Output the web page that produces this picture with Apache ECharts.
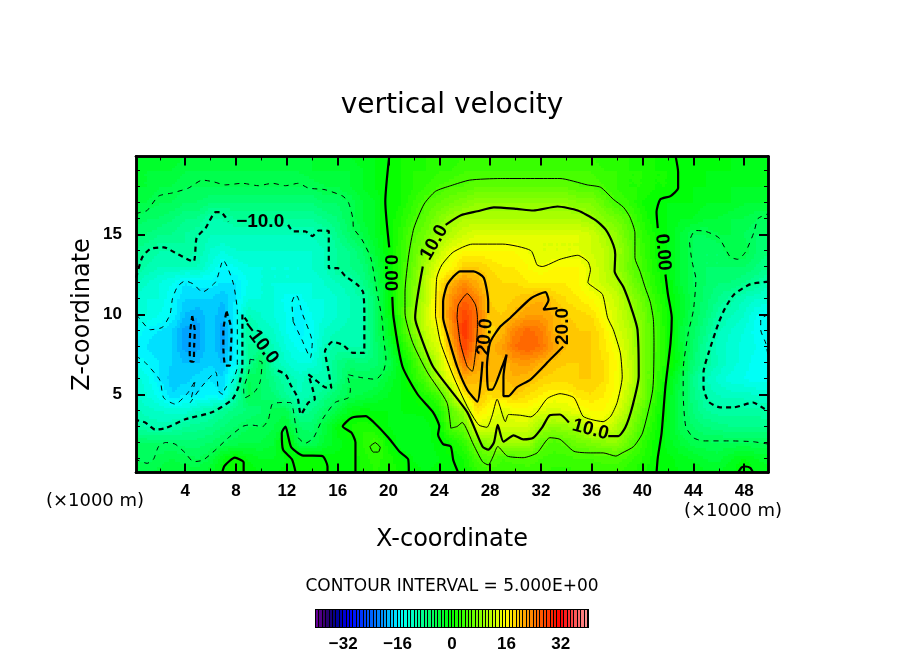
<!DOCTYPE html>
<html lang="en">

<head>
	<meta charset="UTF-8">
	<title>vertical velocity</title>
	<style>
		body {
			margin: 0;
			padding: 0;
			background: #fff;
		}

		#main {
			width: 904px;
			height: 654px;
		}
	</style>
</head>

<body>
	<div id="main"></div>
	<script src="https://cdn.jsdelivr.net/npm/echarts@6/dist/echarts.min.js"></script>
	<script type="text/javascript">
		// tick labels
		var xTicks = [4, 8, 12, 16, 20, 24, 28, 32, 36, 40, 44, 48]
		var xMinorTicks = [2, 6, 10, 14, 18, 22, 26, 30, 34, 38, 42, 46]
		var zTicks = [5, 10, 15]
		var zMinorTicks = [1, 2, 3, 4, 6, 7, 8, 9, 11, 12, 13, 14, 16, 17, 18, 19]
		var barTicks = [-32, -16, 0, 16, 32]

		// colour scale, value -> colour
		var colorLevels = [-40, -37, -34, -30, -20, -15, 0, 16, 32, 40]
		var colorValues = ['#7000a0', '#30006a', '#000090', '#0000ff', '#0098ff', '#00ffff', '#00ff00', '#ffff00', '#ff0000', '#ff9a9a']

		// velocity, one row per z from 20 down to 0, x = 0..50
		var fieldRows = [
			[-2,-2,-2,-2,-3,-3,-3,-3,-3,-3,  -3,-3,-3,-3,-3,-2,-2,-2,-1,-1,  0,1,1,2,2,2,3,3,3,3,  3,3,3,3,3,3,3,2,2,2,  1,1,0,0,-1,-1,-1,-1,-1,-1,-1],
			[-3,-3,-3,-3,-4,-4,-4,-4,-4,-4,  -4,-4,-4,-4,-3,-3,-3,-3,-2,-1,  0,1,2,2,3,3,4,4,4,4,  4,4,4,4,4,4,4,3,3,2,  2,1,1,0,-1,-1,-1,-1,-2,-2,-2],
			[-3,-3,-4,-4,-5,-5,-5,-5,-5,-5,  -5,-5,-5,-5,-5,-4,-4,-3,-2,-1,  0,1,2,3,4,5,5,6,6,6,  6,6,6,6,6,5,5,4,3,2,  2,1,1,0,-1,-1,-2,-2,-2,-2,-2],
			[-4,-4,-5,-5,-6,-6,-7,-7,-7,-7,  -7,-7,-7,-7,-7,-6,-6,-5,-3,-2,  0,1,3,5,6,7,8,9,9,9,  9,9,9,9,9,8,8,6,4,3,  1,0,-1,-1,-1,-2,-2,-2,-3,-3,-3],
			[-5,-6,-6,-7,-8,-8,-10,-10,-9,-9,  -9,-9,-9,-9,-9,-8,-7,-5,-3,-2,  0,2,4,6,8,10,11,11,11,11,  11,11,11,11,11,11,10,8,7,5,  2,0,-1,-2,-2,-3,-3,-4,-4,-5,-5],
			[-7,-7,-8,-8,-9,-10,-11,-11,-11,-11,  -11,-11,-11,-11,-11,-10,-8,-6,-4,-2,  0,2.5,5.5,7,10,11.5,13,14,14,14,  14,14,14,14,14,14,13,11,9,6,  3,1,-1,-3,-5,-5,-4,-4,-5,-6,-6],
			[-8,-9,-10,-10,-9,-10,-12,-13,-12,-12,  -12,-12,-12,-12,-12,-11,-9,-8,-6,-3,  0,3,6,9,12,15,16,16,16,16,  16,15,14,14,14,14,13,12,10,7,  3.5,1,-1,-3,-5,-6,-6,-4,-4,-6,-7],
			[-9,-10,-11,-11,-11,-11,-13,-15,-14,-13,  -13,-13,-13,-13,-12,-11,-9,-8,-7,-4,  -0.5,3,6.5,11,14.5,16,19,19,18,17,  17,16,15,16,16,16,14,12,9.5,6.5,  4,1.5,-1,-3,-5,-6,-6,-6,-6,-7,-8],
			[-11,-12,-13,-14,-16,-15.5,-15.5,-16,-16,-14,  -13,-13,-13,-13,-13,-12,-11,-10.3,-8,-5,  -1,3.5,7.5,12,17,21,23,21,19,18,  18,17,17,17,17,16,14,12.5,11,8,  5,2,0,-3,-5,-6,-7,-7,-8,-9,-11],
			[-12,-13,-13,-15,-17,-17,-17,-18,-16,-13,  -13,-13,-14.5,-14.5,-13,-13,-12,-11,-10,-6,  -1,3.5,8,12,18,23,26,24,19,18,  19,20,21,19,18,17,16,14.5,12.5,9.5,  6.5,3,0.5,-2,-4.5,-6.5,-8,-9.5,-11,-12,-12],
			[-13,-13,-14,-15,-18,-19,-17,-19,-15,-11,  -12,-13,-14,-16,-14,-13,-12,-11,-10,-6,  -1.5,3.5,9,13,18,24,28,25,19.5,19,  20.5,22,22,21,19,18.5,18,15.5,13,10.5,  7.5,4,1,-2,-5,-7,-9.5,-11,-12,-14,-15],
			[-14,-15.5,-16,-17,-19.5,-19.5,-17,-19.5,-15,-9,  -11,-12,-14,-15.5,-14.5,-12,-11,-10.5,-10,-6,  -2,3,8,12.5,15,23,29,24.5,18,20.5,  24,25.5,24.5,21,20,19,19,17,13.5,11.5,  8,4.5,1,-3,-5.5,-8,-11,-12,-13,-14.5,-14],
			[-15.5,-16,-17,-17,-19.5,-19.5,-17,-19.5,-15,-9,  -8.5,-11,-13,-14.5,-14.5,-11,-9.5,-10.3,-10,-6.5,  -3.5,1,5,11,14,21,28,23,20.5,22,  25,26,25,22,20,19,19,17.5,15,12,  8,4.5,1,-2.5,-6,-9,-11.5,-12.5,-13.5,-14,-14.5],
			[-14,-15,-16,-17,-18,-18,-17,-18,-15,-9,  -5,-10,-12,-13,-13,-10.5,-8,-6.5,-7,-6.5,  -4.5,-1,3,7.5,12,18,25,22,21,20,  22,22.5,21,19.5,19,19,19,18,16,12.5,  8,4,1.5,-2,-6.5,-9,-11,-12.5,-13.5,-14.5,-15],
			[-12.5,-13.5,-16,-17.5,-17.5,-16.5,-16,-17,-12,-5,  -6,-8,-10,-11.5,-10,-11,-8,-5,-5,-5,  -3,-1,2,5,11,15,21,20,20.5,19.5,  21,20,19,18.5,18.5,19,19,18,15.5,13,  8,4,0,-4,-8,-11,-12.5,-13.5,-14,-14.5,-14.5],
			[-12,-13,-14.5,-17,-16,-16,-15,-16,-10,-4.5,  -6,-7,-9,-11,-10,-8,-6,-4.5,-4,-3,  -2,-1,0,2,4,10.5,17,20,18,19,  19,18,17,16,16,17.5,18,17,15.5,11.5,  8,3,-1,-4.5,-7.5,-10,-11,-11.5,-11.5,-12,-12],
			[-10.5,-11.5,-12,-12.5,-12.5,-11,-10,-8.5,-7.5,-7,  -6,-4.5,-4.5,-9,-8,-6,-4,-1.5,-0.5,-1,  -1,-1,-0.8,-0.5,1.5,6,9.5,18,15.5,13.5,  15.5,15.5,14,13.5,14,15,16,16,14,10,  6,2,-1,-4.5,-7,-9,-9.5,-9.5,-9.5,-9.5,-10],
			[-9.5,-10,-10.5,-10,-9,-8.5,-8,-7,-6,-5,  -5,-4,-3,-6,-6.5,-3.5,-0.5,1,2,1,  -1,-1.5,-2,-1.5,0,5.2,6.5,14,13,13,  13,13,10,9,9.5,10,14,14,11,8.5,  4.5,1.5,-1.5,-4.5,-6,-7,-7.5,-8,-8,-8,-8],
			[-5.5,-6,-6,-6,-6.5,-6.5,-6,-5,-4.5,-4,  -4,-3,1,-4.5,-5,-3,-1.5,-0.5,2,4,  0.5,-2,-2,-1.5,-0.5,1,3,7,9,10,  10.5,10,6,4.5,5.5,7,7.5,8.5,9,6,  3,0.5,-1.5,-3,-4.5,-4.8,-4.8,-4.8,-4.8,-4.8,-5],
			[-5,-5.5,-4.5,-4,-4.5,-5,-4,-1,0.5,-1,  -2,-2,-1,0.5,0.5,-0.2,-0.5,-0.3,1.5,2.5,  1.5,0.3,-1,-1.5,-1,0,1,4.3,5.5,4,  4.5,4.8,4,3.5,3.5,4,4,4.5,4.5,3.5,  2,0.5,-0.5,-1.5,-2,-3,-3.5,-2,-1,-2,-2.5],
			[-3.5,-4,-3.5,-3,-3,-3,-2,0,1,0,  -1,-1,-0.5,1,1,1,-0.5,-0.5,1,2,  1.5,1,-0.5,-1,-0.5,-0.2,0.5,2,3.5,2.5,  3,3,3,2.5,2.5,2.5,2.5,3,3,2,  1,0,-0.5,-1,-1,-1.5,-1.5,-1,0.5,-1,-1.5]
		]

		// contours as [x, z], broken where a label sits
		var zeroLeftTop = [[20.06,19.9],[19.75,17.06],[20.06,14.2]]
		var zeroLeftLow = [[20.3,11.1],[20.4,9.8],[21.1,6.75],[22.3,5],[23.5,3.9],[24,3],[23.9,2.5],[24.3,1.9],[24.9,1.75],[25.1,0.9],[25.5,0.1]]
		var zeroRightTop = [[42.6,19.9],[42.8,18.9],[42.8,17.9],[42.2,17.4],[41.4,17.2],[41.1,16.4],[41.2,15.4]]
		var zeroRightLow = [[41.8,12.5],[42,11.25],[42.3,9.8],[42.2,8.2],[41.8,5.5],[41.5,2.6],[41.2,1.05],[41.1,0.1]]
		var zeroArch = [[6.9,0.1],[7.1,0.55],[7.9,1.05],[8.6,0.75],[8.6,0.1]]
		var zeroFinger = [[12.7,0.1],[12.4,0.95],[11.7,1.55],[11.6,2.6],[11.9,3],[12.1,2.4],[12.35,1.7],[13.2,1.2],[14.8,1.15],[15.2,0.5],[15.2,0.1]]
		var zeroBlob = [[17.4,0.1],[17.4,2],[17.1,2.6],[16.4,3],[17.1,3.55],[18.2,3.65],[18.8,3.3],[20,2.3],[20.9,1.4],[21.55,0.95],[21.6,0.1]]
		var zeroCorner = [[47.5,0.1],[47.8,0.45],[48.1,0.5],[48.5,0.4],[48.7,0.1]]

		var five = [[24.9,2.9],[24.6,4.5],[23.05,6.4],[21.9,8.25],[21.3,10.1],[21.3,11.4],[21.6,13.75],[22,15.4],[22.8,16.9],[23.7,17.7],[24.9,18.05],[26.4,18.4],[28.8,18.5],[33.5,18.5],[35.65,18.1],[36.7,17.95],[37.7,17.2],[38.5,16.7],[39,16.1],[39.4,15.1],[39.4,13.55],[39.8,12.7],[40.2,11.7],[40.6,10.8],[40.85,9.7],[40.9,8.25],[40.8,5.3],[40,2.6],[39.3,1.75],[38.4,1.35],[37.9,1.15],[36.9,1.35],[35.9,1.35],[34.6,1.45],[33.5,2.2],[32.7,2.3],[31.7,1.35],[30.6,1.05],[29.35,1.15],[28.6,1.75],[28.25,1.15],[27.85,0.6],[27.4,0.8],[26.7,1.85],[25.8,3.25],[25.4,3],[24.9,2.9]]
		var fiveLoop = [[18.96,2],[19.35,1.7],[19.2,1.4],[18.8,1.4],[18.55,1.75],[18.96,2]]

		var tenUpper = [[24.5,15.6],[25.7,16.2],[27,16.45],[28.3,16.7],[30.1,16.6],[31.4,16.5],[33.3,16.75],[34.9,16.5],[36.3,15.9],[37.1,15.3],[37.7,14.35],[37.85,13.75],[37.8,12.7],[38.5,11.7],[39.2,10.2],[39.6,9.05],[39.7,6.15],[39.2,4.25],[38.65,2.95],[38.1,2.4],[37.3,2.4]]
		var tenLower = [[34.2,3.25],[33.5,3.75],[32.7,3.7],[32.1,2.95],[31.4,2.3],[30.6,2.2],[29.85,2.45],[29.05,2.05],[28.6,3.1],[28.3,2],[27.85,1.55],[27.4,1.75],[26.2,3.9],[23.5,6.75],[22.35,9.05],[22.1,9.8],[22.7,13]]

		var fifteen = [[23.7,9.9],[23.8,12.3],[24.2,13.1],[25.1,13.9],[26.6,14.4],[29,14.4],[31.2,14],[31.7,13.1],[32.1,13],[33.5,13.45],[34.9,13.7],[35.7,13.3],[35.9,12.8],[35.7,12],[36.15,11.7],[36.85,11.25],[37.25,9.8],[37.7,9.05],[38.25,7.6],[38.4,6.1],[38,4.5],[37.5,3.65],[36.9,3.3],[35.9,3.45],[35.3,3.65],[34.6,4.8],[33.5,5.05],[32.5,4.75],[31.7,3.9],[31.2,3.6],[30.4,3.7],[29.45,3.75],[29.2,3.3],[28.55,4.7],[28.15,3.65],[27.75,2.95],[27.1,3.1],[26.2,4.25],[25.1,6.15],[24.1,8.25],[23.7,9.9]]

		var twentyLeft = [[27.4,7.05],[27,4.55],[26.2,5.3],[25.4,6.75],[24.6,8.85],[24.3,9.8],[24.3,10.8],[24.65,11.9],[25.65,12.7],[26.7,12.7],[27.5,12.3],[27.85,10.8],[27.85,10.1]]
		var twentyRight = [[33.75,8],[32.75,7.2],[31.2,5.95],[30.1,5.45],[29.45,4.9],[29.05,4.9],[29.05,6.1],[29.3,7.5],[28.95,6.75],[28.15,5.3],[27.85,5.3],[27.75,6.75],[28,8.25],[28.8,9.25],[29.6,9.8],[31.2,11],[32.35,11.4],[32.6,10.9],[32.2,10.3],[33.3,10.4]]

		var twentyFive = [[25.4,9.8],[25.5,10.6],[26.2,11.3],[26.85,10.6],[27,9.8],[27,9.25],[26.6,6.45],[26.2,6.75],[25.65,8.25],[25.4,9.8]]

		var minusFive = [[0.1,16.3],[0.55,16.4],[1,16.5],[1.9,17.4],[3,17.6],[4.25,17.9],[5.35,18.4],[6.2,18.3],[7.15,18.1],[8.5,18.2],[9.75,18.05],[10.85,18.2],[11.9,18.05],[12.9,18.2],[13.7,17.9],[15,17.8],[16.4,17.4],[16.85,17],[17.2,16],[17.25,15.4],[17.9,14.7],[18.6,13.55],[19.1,11.4],[19.5,9.7],[19.6,8.6],[19.8,7.2],[19.6,6.45],[19,5.95],[17.9,6.05],[16.75,6.25],[17,5.3],[16.85,4.8],[15.8,4.5],[14.8,3.45],[14.1,2.3],[13.45,1.95],[12.9,2.3],[12.7,3],[12.5,4.05],[12.3,4.5],[11.6,4.5],[10.85,4.4],[10.55,3.45],[10.1,3],[9.1,3.1],[8.5,3],[7.4,2.3],[6.4,1.55],[5.4,0.9],[4.65,0.8],[4,1.35],[3.2,1.9],[2.45,2],[1.9,1.75],[1.5,0.95],[1,0.7],[0.1,0.95]]
		var minusFiveIsland = [[9.1,7.2],[9,6.4],[8.6,5.3],[8.7,4.8],[9.5,5.2],[9.9,5.8],[10.05,7],[9.1,7.2]]
		var minusFiveRight = [[49.9,1.9],[48.7,2.05],[46.9,2.1],[44.8,2.1],[44,2.3],[43.4,3],[43.2,5.1],[43.2,6.55],[43.6,8.85],[44,10.25],[44.2,12.2],[43.9,13.3],[43.7,14.55],[44.15,15.25],[44.95,15.2],[46,14.8],[46.9,13.6],[47.5,13.45],[48.1,13.9],[48.75,15.1],[49.1,16],[49.9,16.3]]

		var minusTenTop = [[0.14,12.3],[0.6,13.55],[1.25,14.1],[2.3,14.2],[3.45,13.75],[4.65,13.3],[4.9,14.8],[5.6,15.4],[6.4,16.4],[6.8,16.4],[7.4,15.8]]
		var minusTenRight = [[12.1,15.6],[12.5,15.2],[13.45,15.2],[14,14.9],[14.5,15.25],[15.3,15.2],[15.3,12.9],[16,12.9],[16.6,12.4],[17.5,11.9],[18,11.4],[18.1,10],[18.1,7.6],[17.2,7.6],[16.4,8.1],[15.6,8.3],[15,7.7],[15.3,6.4],[15.5,5.4],[15,5.45],[14.2,5.95],[13.7,6.25],[14.2,4.7],[13.7,4.5],[13.1,3.75],[12.85,4.8],[12.3,5.6],[11.9,6.25],[11.1,6.55]]
		var minusTenLow = [[8.9,9.55],[8.5,10],[8.5,8.25],[8.5,6.75],[8.2,5.5],[7.7,4.7],[6.15,3.9],[4,3.45],[2.45,2.9],[1.65,2.8],[0.85,3.25],[0.14,3.4]]
		var minusTenEast = [[49.9,12.05],[48.5,11.9],[47.2,11.25],[46.5,10.4],[46,9.5],[45.2,7.6],[44.8,6.4],[44.8,5.45],[45.2,4.55],[46.1,4.2],[47.2,4.2],[48.7,4.5],[49.4,4.2],[49.9,3.95]]

		var minusFifteen = [[0.14,10],[0.45,9.7],[1.25,9.05],[2.2,9.2],[2.8,10],[3,11],[3.4,11.75],[4,12.1],[4.65,11.9],[5.35,11.4],[6.4,12.05],[7,13.4],[7.3,13],[7.8,11.9],[8.1,10.2],[8.1,6.75],[7.7,5.8],[7.15,5.4],[7,5],[6.75,5.1],[6.6,5.3],[6.4,6.4],[5.3,5.5],[4.4,4.5],[4.8,5.9],[4.2,5.1],[3.2,4.4],[2.3,4.8],[2,5.9],[0.85,7],[0.14,7.4]]
		var minusFifteenLoop = [[12.5,9.55],[12.4,10.75],[12.7,11.25],[12.9,11],[13.2,10.1],[14,8.25],[13.85,7.3],[13.2,8.4],[12.5,9.55]]
		var minusFifteenEast = [[49.9,10],[49.3,9.7],[49.3,9.05],[49.7,8.2],[49.9,7.3]]

		var minusTwentyA = [[4.55,9.9],[4.75,9],[4.7,8],[4.65,7.05],[4.4,7.1],[4.35,8],[4.4,9],[4.55,9.9]]
		var minusTwentyB = [[7.25,10.2],[7.65,9],[7.6,8],[7.5,6.8],[7.15,6.8],[7,8],[7,9],[7.25,10.2]]

		var contourLabels = ['\u221210.0', '\u221210.0', '0.00', '0.00', '10.0', '10.0', '20.0', '20.0']
		var labelX = [9.9, 9.9, 20.1, 41.6, 23.6, 35.9, 27.6, 33.75]
		var labelZ = [15.8, 8.25, 12.6, 13.9, 14.5, 2.8, 8.6, 9.25]
		var labelAngle = [0, -53, -90, -85, 60, -15, 85, 90]

		var FONT = 'DejaVu Sans'
		var NUM_FONT = 'Liberation Sans'
		var xMin = 0.125, xMax = 49.875, zMin = 0.125, zMax = 19.875

		// 80 one-unit colour bands like the colour bar under the plot
		function mixColor(v) {
			let i = 0
			while (i < colorLevels.length - 2 && v > colorLevels[i + 1]) i++
			let t = (v - colorLevels[i]) / (colorLevels[i + 1] - colorLevels[i])
			let a = colorValues[i], b = colorValues[i + 1]
			let out = '#'
			for (let k = 1; k < 7; k += 2) {
				let p = parseInt(a.substr(k, 2), 16), q = parseInt(b.substr(k, 2), 16)
				out += ('0' + Math.round(p + (q - p) * t).toString(16)).slice(-2)
			}
			return out
		}
		var bands = []
		for (let v = -40; v < 40; v++) bands.push(mixColor(v + 0.5))
		function bandColor(v) {
			return bands[Math.max(0, Math.min(79, Math.floor(v) + 40))]
		}

		var cells = []
		for (let z = 0; z < 20; z++) {
			for (let x = 0; x < 50; x++) cells.push([x, z])
		}
		var barCells = bands.map(function(c, i) { return [i - 40] })

		// each grid cell is shaded in small steps between its four read values
		function renderCell(params, api) {
			let x0 = api.value(0), z0 = api.value(1)
			let a = fieldRows[20 - z0][x0], b = fieldRows[20 - z0][x0 + 1]
			let c = fieldRows[19 - z0][x0], d = fieldRows[19 - z0][x0 + 1]
			let kids = []
			let nx = 5, nz = 6
			for (let i = 0; i < nx; i++) {
				for (let j = 0; j < nz; j++) {
					let p = api.coord([x0 + i / nx, z0 + (j + 1) / nz])
					let q = api.coord([x0 + (i + 1) / nx, z0 + j / nz])
					let u = (i + 0.5) / nx, w = (j + 0.5) / nz
					let v = a * (1 - u) * (1 - w) + b * u * (1 - w) + c * (1 - u) * w + d * u * w
					let left = Math.floor(p[0]), top = Math.floor(p[1])
					kids.push({
						type: 'rect',
						shape: { x: left, y: top, width: Math.ceil(q[0]) - left, height: Math.ceil(q[1]) - top },
						style: { fill: bandColor(v) }
					})
				}
			}
			return {
				type: 'group',
				silent: true,
				clipPath: {
					type: 'rect',
					shape: { x: params.coordSys.x, y: params.coordSys.y, width: params.coordSys.width, height: params.coordSys.height }
				},
				children: kids
			}
		}

		function renderBarCell(params, api) {
			let v = api.value(0)
			let p = api.coord([v, 40]), q = api.coord([v + 1, 0])
			let left = Math.round(p[0])
			return {
				type: 'rect',
				shape: { x: left, y: p[1], width: Math.max(1, Math.round(q[0]) - left - 1), height: q[1] - p[1] },
				style: { fill: bands[v + 40] }
			}
		}

		function renderLabel(params, api) {
			let i = params.dataIndex
			let p = api.coord([labelX[i], labelZ[i]])
			return {
				type: 'text',
				x: p[0],
				y: p[1],
				rotation: labelAngle[i] * Math.PI / 180,
				style: {
					text: contourLabels[i],
					fill: '#000',
					font: 'bold 19px "' + NUM_FONT + '"',
					align: 'center',
					verticalAlign: 'middle'
				}
			}
		}

		function lineSeries(points, width, dashed) {
			return {
				type: 'line',
				xAxisIndex: 0,
				yAxisIndex: 0,
				data: points,
				showSymbol: false,
				symbol: 'none',
				smooth: 0.2,
				silent: true,
				z: 3,
				lineStyle: { color: '#000', width: width, type: dashed ? (width > 1.5 ? [5, 4] : [5, 5]) : 'solid' }
			}
		}

		function xAxisAt(pos, ticks, len, width, name) {
			let ax = {
				type: 'value',
				gridIndex: 0,
				position: pos,
				min: xMin,
				max: xMax,
				z: 5,
				splitLine: { show: false },
				axisLine: { show: true, onZero: false, lineStyle: { color: '#000', width: 2.5 } },
				axisTick: { show: true, inside: true, length: len, customValues: ticks, lineStyle: { color: '#000', width: width } },
				axisLabel: { show: false }
			}
			if (name) {
				ax.axisLabel = { show: true, customValues: ticks, margin: 10, color: '#000', fontFamily: NUM_FONT, fontSize: 17, fontWeight: 'bold' }
				ax.name = name
				ax.nameLocation = 'middle'
				ax.nameMoveOverlap = false
				ax.nameGap = 55
				ax.nameTextStyle = { color: '#000', fontFamily: FONT, fontSize: 24 }
			}
			return ax
		}

		function zAxisAt(pos, ticks, len, width, name) {
			let ax = {
				type: 'value',
				gridIndex: 0,
				position: pos,
				min: zMin,
				max: zMax,
				z: 5,
				splitLine: { show: false },
				axisLine: { show: true, onZero: false, lineStyle: { color: '#000', width: 2.5 } },
				axisTick: { show: true, inside: true, length: len, customValues: ticks, lineStyle: { color: '#000', width: width } },
				axisLabel: { show: false }
			}
			if (name) {
				ax.axisLabel = { show: true, customValues: ticks, margin: 14, color: '#000', fontFamily: NUM_FONT, fontSize: 17, fontWeight: 'bold' }
				ax.name = name
				ax.nameLocation = 'middle'
				ax.nameMoveOverlap = false
				ax.nameGap = 41
				ax.nameTextStyle = { color: '#000', fontFamily: FONT, fontSize: 24 }
			}
			return ax
		}

		var series = [{
			type: 'custom',
			xAxisIndex: 0,
			yAxisIndex: 0,
			data: cells,
			renderItem: renderCell,
			progressive: 0,
			z: 1
		}, {
			type: 'custom',
			xAxisIndex: 4,
			yAxisIndex: 4,
			data: barCells,
			renderItem: renderBarCell,
			silent: true,
			z: 2
		}, {
			type: 'custom',
			xAxisIndex: 0,
			yAxisIndex: 0,
			data: contourLabels.map(function(t, i) { return [labelX[i], labelZ[i]] }),
			renderItem: renderLabel,
			clip: false,
			silent: true,
			z: 4
		}]

		var thickSolid = [zeroLeftTop, zeroLeftLow, zeroRightTop, zeroRightLow, zeroArch, zeroFinger, zeroBlob, zeroCorner, tenUpper, tenLower, twentyLeft, twentyRight]
		var thinSolid = [five, fiveLoop, fifteen, twentyFive]
		var thickDash = [minusTenTop, minusTenRight, minusTenLow, minusTenEast, minusTwentyA, minusTwentyB]
		var thinDash = [minusFive, minusFiveIsland, minusFiveRight, minusFifteen, minusFifteenLoop, minusFifteenEast]
		thickSolid.forEach(function(p) { series.push(lineSeries(p, 2.2, false)) })
		thinSolid.forEach(function(p) { series.push(lineSeries(p, 1, false)) })
		thickDash.forEach(function(p) { series.push(lineSeries(p, 2.2, true)) })
		thinDash.forEach(function(p) { series.push(lineSeries(p, 1, true)) })

		var chart = echarts.init(document.getElementById('main'), null, { renderer: 'canvas' })
		chart.setOption({
			animation: false,
			backgroundColor: '#fff',
			title: {
				text: 'vertical velocity',
				left: 'center',
				top: 87,
				textStyle: { color: '#000', fontFamily: FONT, fontSize: 28, fontWeight: 'normal' }
			},
			grid: [
				{ left: 136, top: 156.5, width: 632, height: 316, containLabel: false },
				{ left: 316, top: 610, width: 272, height: 17, show: true, backgroundColor: '#000', borderColor: '#000', borderWidth: 2 }
			],
			xAxis: [
				xAxisAt('bottom', xTicks, 9, 2, 'X-coordinate'),
				xAxisAt('top', xTicks, 9, 2),
				xAxisAt('bottom', xMinorTicks, 4, 1),
				xAxisAt('top', xMinorTicks, 4, 1),
				{
					type: 'value',
					gridIndex: 1,
					min: -40,
					max: 40,
					splitLine: { show: false },
					axisLine: { show: false },
					axisTick: { show: false },
					axisLabel: {
						customValues: barTicks,
						margin: 9,
						color: '#000',
						fontFamily: NUM_FONT,
						fontSize: 17,
						fontWeight: 'bold',
						formatter: function(v) { return v < 0 ? '\u2212' + (-v) : '' + v }
					}
				}
			],
			yAxis: [
				zAxisAt('left', zTicks, 9, 2, 'Z-coordinate'),
				zAxisAt('right', zTicks, 9, 2),
				zAxisAt('left', zMinorTicks, 4, 1),
				zAxisAt('right', zMinorTicks, 4, 1),
				{
					type: 'value',
					gridIndex: 1,
					min: 0,
					max: 40,
					show: false
				}
			],
			graphic: [
				{ type: 'text', x: 95, y: 501, style: { text: '(\u00d71000 m)', font: '18px "' + FONT + '"', fill: '#000', align: 'center', verticalAlign: 'middle' } },
				{ type: 'text', x: 733, y: 511, style: { text: '(\u00d71000 m)', font: '18px "' + FONT + '"', fill: '#000', align: 'center', verticalAlign: 'middle' } },
				{ type: 'text', x: 452, y: 587, style: { text: 'CONTOUR INTERVAL = 5.000E+00', font: '17px "' + FONT + '"', fill: '#000', align: 'center', verticalAlign: 'middle' } }
			],
			series: series
		})
	</script>
</body>

</html>
